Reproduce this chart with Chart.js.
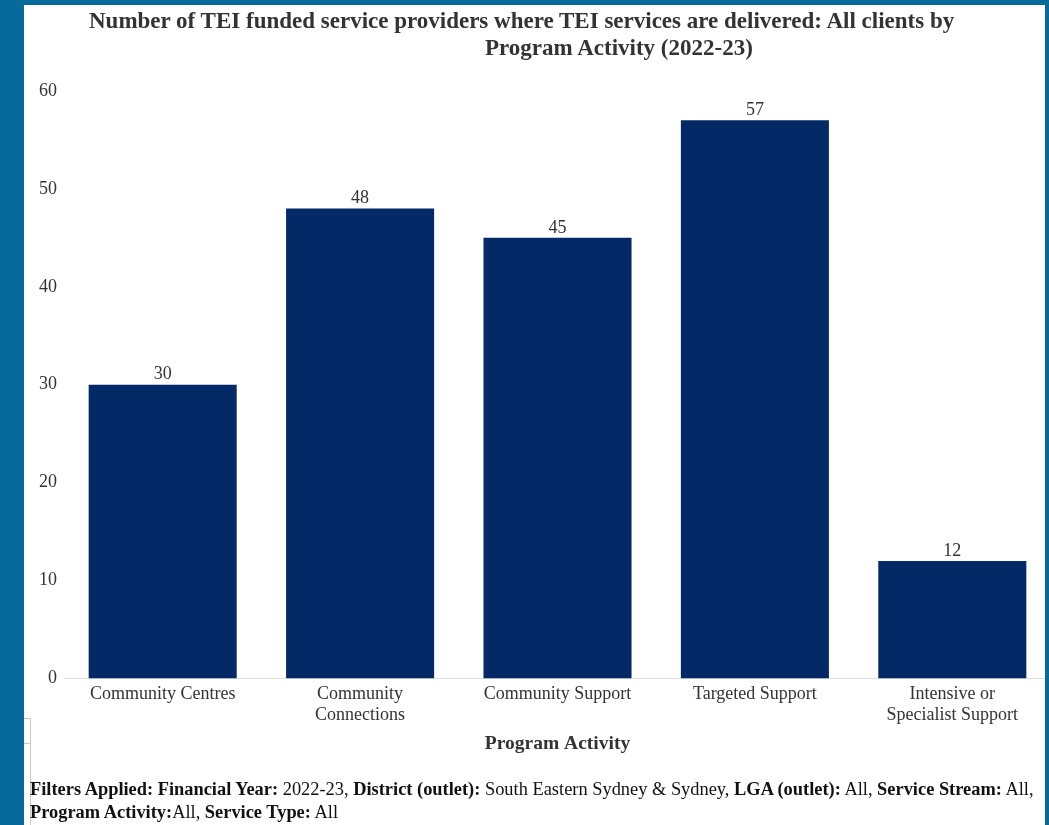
<!DOCTYPE html>
<html>
<head>
<meta charset="utf-8">
<script src="https://cdn.jsdelivr.net/npm/chart.js@4.4.0/dist/chart.umd.min.js"></script>
<style>
  html, body { margin: 0; padding: 0; background: #ffffff; }
  body { width: 1049px; height: 825px; position: relative; overflow: hidden; font-family: "Liberation Serif", "Times New Roman", serif; }
  .frame { position: absolute; background: #066a9b; z-index: 5; }
  #chartWrap { position: absolute; left: 24px; top: 5px; }
  .title { position: absolute; font-weight: bold; font-size: 23px; line-height: 27px; color: #333; white-space: nowrap; z-index: 3; }
  .footer { position: absolute; left: 30px; top: 778px; font-size: 18.4px; line-height: 23px; color: #111; white-space: nowrap; z-index: 3; }
  .smallbox { position: absolute; left: 24px; top: 718px; width: 6px; height: 24px; border-top: 1px solid #c8c8c8; border-bottom: 1px solid #c8c8c8; border-right: 1px solid #c8c8c8; }
  .smallline { position: absolute; left: 30px; top: 742px; width: 0; height: 90px; border-right: 1px solid #c8c8c8; }
</style>
</head>
<body>
<div class="frame" style="left:0;top:0;width:24px;height:825px;"></div>
<div class="frame" style="left:0;top:0;width:1049px;height:5px;"></div>
<div class="frame" style="left:1045px;top:0;width:4px;height:825px;"></div>

<div class="title" style="left:89px;top:7px;">Number of TEI funded service providers where TEI services are delivered: All clients by</div>
<div class="title" style="left:485px;top:34px;">Program Activity (2022-23)</div>

<div id="chartWrap"><canvas id="teiChart" width="1036" height="760"></canvas></div>

<div class="smallbox"></div>
<div class="smallline"></div>

<div class="footer"><b>Filters Applied: Financial Year:</b> 2022-23, <b>District (outlet):</b> South Eastern Sydney &amp; Sydney, <b>LGA (outlet):</b> All, <b>Service Stream:</b> All,<br><b>Program Activity:</b>All, <b>Service Type:</b> All</div>

<script>
// dados do gráfico
const categorias = [
  "Community Centres",
  ["Community", "Connections"],
  "Community Support",
  "Targeted Support",
  ["Intensive or", "Specialist Support"]
]
const valores = [30, 48, 45, 57, 12]
const eixoY = { min: 0, max: 60, passo: 10 }

// escreve o valor em cima de cada barra
const rotuloValores = {
  id: "rotuloValores",
  afterDatasetsDraw(chart) {
    const ctx = chart.ctx
    const meta = chart.getDatasetMeta(0)
    ctx.save()
    ctx.font = "18px 'Liberation Serif', serif"
    ctx.fillStyle = "#333"
    ctx.textAlign = "center"
    ctx.textBaseline = "bottom"
    meta.data.forEach((bar, i) => {
      ctx.fillText(String(valores[i]), bar.x, bar.y - 1)
    })
    ctx.restore()
  }
}

const ctx = document.getElementById("teiChart").getContext("2d")

const teiChart = new Chart(ctx, {
  type: "bar",
  data: {
    labels: categorias,
    datasets: [
      {
        label: "Providers",
        data: valores,
        backgroundColor: "#032a66",
        barPercentage: 0.75,
        categoryPercentage: 1.0,
      },
    ],
  },
  options: {
    responsive: false,
    animation: false,
    layout: {
      padding: { top: 86, left: 8, right: 9, bottom: 5 },
    },
    plugins: {
      legend: { display: false },
      tooltip: { enabled: false },
    },
    scales: {
      y: {
        min: eixoY.min,
        max: eixoY.max,
        ticks: {
          stepSize: eixoY.passo,
          color: "#333",
          padding: 7,
          font: { family: "'Liberation Serif', serif", size: 18 },
        },
        grid: { display: false, drawTicks: false },
        border: { display: false },
      },
      x: {
        ticks: {
          color: "#333",
          padding: 5,
          maxRotation: 0,
          autoSkip: false,
          font: { family: "'Liberation Serif', serif", size: 18, lineHeight: 1.17 },
        },
        grid: { display: false, drawTicks: false },
        border: { display: true, color: "#e0e0e0", dash: [2, 2], width: 1 },
        title: {
          display: true,
          text: "Program Activity",
          color: "#333",
          padding: { top: 2, bottom: 4 },
          font: { family: "'Liberation Serif', serif", size: 19.5, weight: "bold" },
        },
      },
    },
  },
  plugins: [rotuloValores],
})
</script>
</body>
</html>
